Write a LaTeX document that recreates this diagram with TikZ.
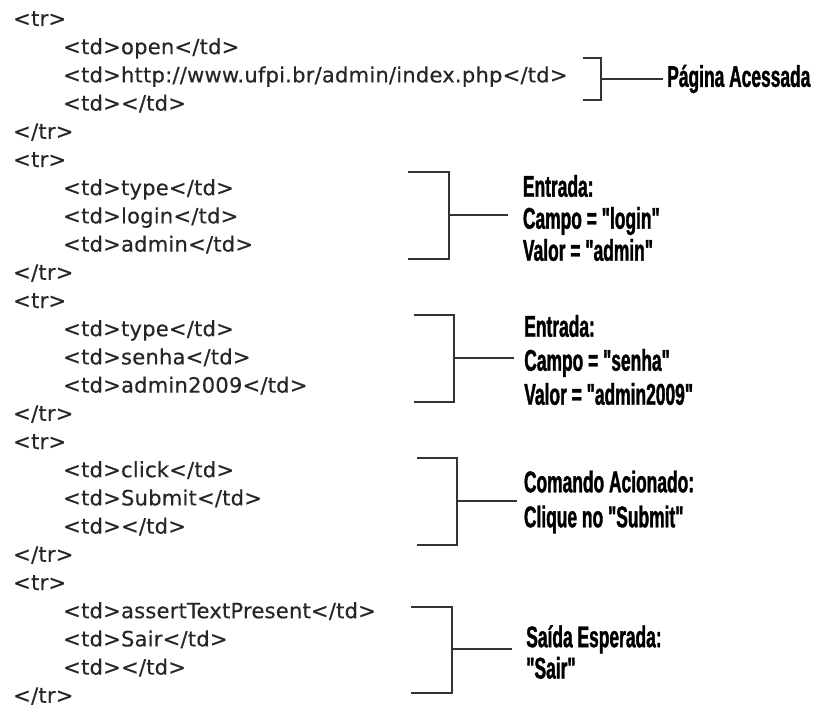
\documentclass[tikz,border=0pt]{standalone}
\usepackage{fontspec}
\newfontfamily\codefont{DejaVu Sans}[LetterSpace=1,FakeBold=0.4]
\newfontfamily\labfont{Liberation Sans}[FakeStretch=0.58,FakeBold=1.2]
\definecolor{codegray}{HTML}{262626}
\definecolor{linegray}{HTML}{333333}
\begin{document}
\begin{tikzpicture}[x=0.75pt,y=-0.75pt,
  code/.style={anchor=base west,inner sep=0pt,text=codegray,font=\codefont\fontsize{15.8}{18}\selectfont},
  lab/.style={anchor=west,inner ysep=0pt,inner xsep=0pt,align=left,text=black},
  labf/.style={font=\labfont\bfseries\fontsize{22.5}{#1}\selectfont},
  brk/.style={draw=linegray,line width=1.5pt},
  conn/.style={draw=linegray,line width=1.5pt}]
\useasboundingbox (0,0) rectangle (816,724);
% code lines
\def\bs{28.2}
\node[code] (c1)  at (13,{26+0*\bs})  {<tr>};
\node[code] (c2)  at (63,{26+1*\bs})  {<td>open</td>};
\node[code] (c3)  at (63,{26+2*\bs})  {<td>http://www.ufpi.br/admin/index.php</td>};
\node[code] (c4)  at (63,{26+3*\bs})  {<td></td>};
\node[code] (c5)  at (13,{26+4*\bs})  {</tr>};
\node[code] (c6)  at (13,{26+5*\bs})  {<tr>};
\node[code] (c7)  at (63,{26+6*\bs})  {<td>type</td>};
\node[code] (c8)  at (63,{26+7*\bs})  {<td>login</td>};
\node[code] (c9)  at (63,{26+8*\bs})  {<td>admin</td>};
\node[code] (c10) at (13,{26+9*\bs})  {</tr>};
\node[code] (c11) at (13,{26+10*\bs}) {<tr>};
\node[code] (c12) at (63,{26+11*\bs}) {<td>type</td>};
\node[code] (c13) at (63,{26+12*\bs}) {<td>senha</td>};
\node[code] (c14) at (63,{26+13*\bs}) {<td>admin2009</td>};
\node[code] (c15) at (13,{26+14*\bs}) {</tr>};
\node[code] (c16) at (13,{26+15*\bs}) {<tr>};
\node[code] (c17) at (63,{26+16*\bs}) {<td>click</td>};
\node[code] (c18) at (63,{26+17*\bs}) {<td>Submit</td>};
\node[code] (c19) at (63,{26+18*\bs}) {<td></td>};
\node[code] (c20) at (13,{26+19*\bs}) {</tr>};
\node[code] (c21) at (13,{26+20*\bs}) {<tr>};
\node[code] (c22) at (63,{26+21*\bs}) {<td>assertTextPresent</td>};
\node[code] (c23) at (63,{26+22*\bs}) {<td>Sair</td>};
\node[code] (c24) at (63,{26+23*\bs}) {<td></td>};
\node[code] (c25) at (13,{26+24*\bs}) {</tr>};
% brackets
\draw[brk] (583,58) -- (601,58) -- (601,100) -- (583,100);
\coordinate (b1) at (601,79);
\draw[brk] (408,172) -- (449,172) -- (449,259) -- (408,259);
\coordinate (b2) at (449,215);
\draw[brk] (414,315) -- (454,315) -- (454,402) -- (414,402);
\coordinate (b3) at (454,358);
\draw[brk] (417,458) -- (457,458) -- (457,545) -- (417,545);
\coordinate (b4) at (457,501);
\draw[brk] (411,607) -- (452,607) -- (452,693) -- (411,693);
\coordinate (b5) at (452,649);
% labels
\node[lab,labf=23.5,inner xsep=3pt] (l1) at (663,79) {Página Acessada};
\node[lab,labf=24,inner xsep=11pt] (l2) at (508,218) {Entrada:\\Campo = "login"\\Valor = "admin"};
\node[lab,labf=25.5,inner xsep=7.5pt] (l3) at (514,360) {Entrada:\\Campo = "senha"\\Valor = "admin2009"};
\node[lab,labf=26.25,inner xsep=5pt] (l4) at (517,502) {Comando Acionado:\\Clique no "Submit"};
\node[lab,labf=23.5,inner xsep=10.5pt] (l5) at (512,652) {Saída Esperada:\\"Sair"};
% connectors
\draw[conn] (b1) -- (l1.west |- b1);
\draw[conn] (b2) -- (l2.west |- b2);
\draw[conn] (b3) -- (l3.west |- b3);
\draw[conn] (b4) -- (l4.west |- b4);
\draw[conn] (b5) -- (l5.west |- b5);
\end{tikzpicture}
\end{document}
